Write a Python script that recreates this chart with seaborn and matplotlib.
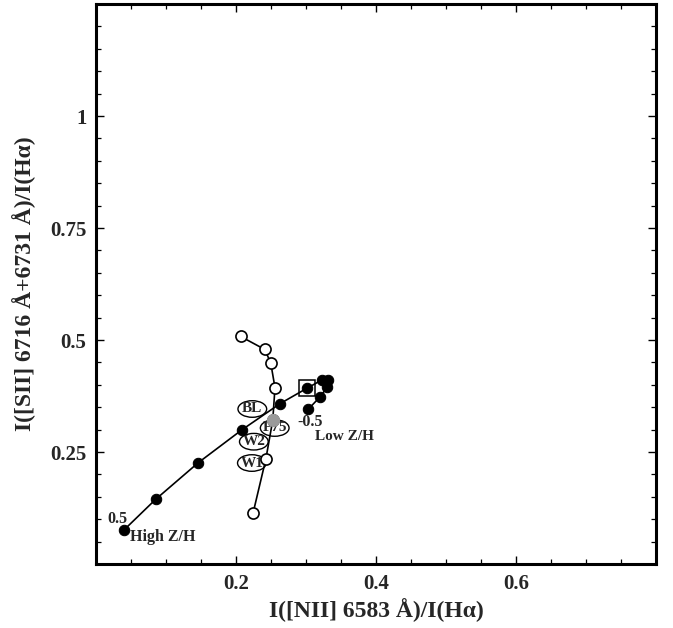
import matplotlib
matplotlib.use("Agg")
import matplotlib.pyplot as plt
import seaborn as sns
import pandas as pd
from matplotlib.ticker import MultipleLocator
from matplotlib.patches import Ellipse

# Filled-circle model sequence (Z/H from 0.5 to -0.5)
nii_filled = [0.040, 0.085, 0.146, 0.208, 0.263, 0.301, 0.323, 0.332, 0.330, 0.320, 0.303]
sii_filled = [0.076, 0.144, 0.226, 0.299, 0.358, 0.392, 0.411, 0.410, 0.394, 0.373, 0.345]

# Open-circle sequence
nii_open = [0.2065, 0.241, 0.2496, 0.2557, 0.2525, 0.2426, 0.2245]
sii_open = [0.508, 0.479, 0.449, 0.3935, 0.321, 0.234, 0.1145]

# Grey point and squared point
grey_pt = (0.2525, 0.321)
square_pt = (0.301, 0.392)

# Ellipse labels
ell_labels = ["BL", "P75", "W2", "W1"]
ell_x = [0.2233, 0.2553, 0.2255, 0.2227]
ell_y = [0.346, 0.3036, 0.273, 0.2254]

sns.set_theme(style="white")
plt.rcParams['font.family'] = ['Liberation Serif', 'DejaVu Serif']

fig = plt.figure(figsize=(6.73, 6.28), dpi=100)
ax = fig.add_axes([96/673, 64/628, 560/673, 560/628])

df_f = pd.DataFrame({"x": nii_filled, "y": sii_filled})
df_o = pd.DataFrame({"x": nii_open, "y": sii_open})

sns.lineplot(data=df_f, x="x", y="y", sort=False, color="black", lw=1.2,
             marker="o", markersize=7.5, markerfacecolor="black",
             markeredgecolor="black", ax=ax, zorder=3)
sns.lineplot(data=df_o, x="x", y="y", sort=False, color="black", lw=1.2,
             marker="o", markersize=8, markerfacecolor="white",
             markeredgecolor="black", markeredgewidth=1.2, ax=ax, zorder=3)
ax.plot([grey_pt[0]], [grey_pt[1]], marker="o", markersize=8.5,
        markerfacecolor="#9a9a9a", markeredgecolor="#9a9a9a", zorder=4)
ax.plot([square_pt[0]], [square_pt[1]], marker="s", markersize=11,
        markerfacecolor="none", markeredgecolor="black", markeredgewidth=1.1, zorder=4)

for lab, ex, ey in zip(ell_labels, ell_x, ell_y):
    ax.add_patch(Ellipse((ex, ey), 0.041, 0.037, fc="white", ec="black", lw=1.0, zorder=2.4))
    ax.text(ex, ey, lab, ha="center", va="center", fontsize=11, fontweight="bold",
            zorder=2.5)

ax.text(0.030, 0.100, "0.5", fontsize=11.5, fontweight="bold", ha="center", va="center")
ax.text(0.049, 0.060, "High Z/H", fontsize=11.5, fontweight="bold", ha="left", va="center")
ax.text(0.306, 0.316, "-0.5", fontsize=11.5, fontweight="bold", ha="center", va="center")
ax.text(0.313, 0.285, "Low Z/H", fontsize=11, fontweight="bold", ha="left", va="center")

ax.set_xlim(0, 0.8)
ax.set_ylim(0, 1.25)
ax.set_xticks([0.2, 0.4, 0.6])
ax.set_xticklabels(["0.2", "0.4", "0.6"])
ax.set_yticks([0.25, 0.5, 0.75, 1.0])
ax.set_yticklabels(["0.25", "0.5", "0.75", "1"])
ax.xaxis.set_minor_locator(MultipleLocator(0.05))
ax.yaxis.set_minor_locator(MultipleLocator(0.05))
ax.tick_params(which="both", direction="in", top=True, right=True, bottom=True, left=True,
               color="black")
ax.tick_params(which="major", length=6, width=1.0, labelsize=15, pad=7)
ax.tick_params(which="minor", length=3.5, width=0.9)
for lbl in ax.get_xticklabels() + ax.get_yticklabels():
    lbl.set_fontweight("bold")

for sp in ax.spines.values():
    sp.set_visible(True)
    sp.set_color("black")
    sp.set_linewidth(2.2)

ax.set_xlabel("I([NII] 6583 Å)/I(H\u03b1)", fontsize=17, fontweight="bold", labelpad=3)
ax.set_ylabel("I([SII] 6716 Å+6731 Å)/I(H\u03b1)", fontsize=17, fontweight="bold", labelpad=10)
ax.grid(False)

fig.savefig("out.png", dpi=100)
